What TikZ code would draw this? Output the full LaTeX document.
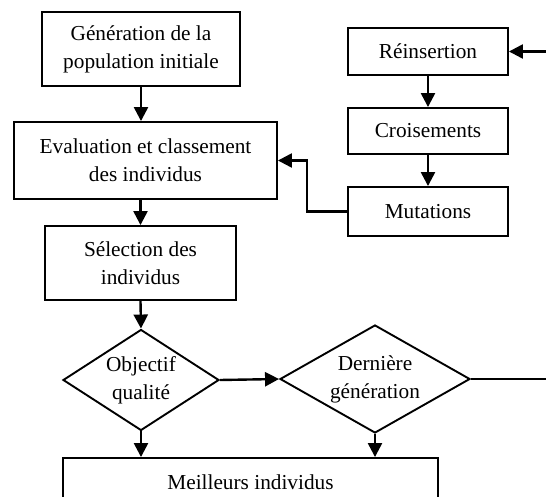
\documentclass[tikz,border=0pt]{standalone}
\usepackage{fontspec}
\setmainfont{Liberation Serif}
\usetikzlibrary{arrows.meta,positioning,shapes.geometric}

\begin{document}
\begin{tikzpicture}[
    x=1pt, y=-1pt,
    arr/.style={-{Triangle[length=14pt,width=14pt]}, line width=2.4pt},
    ln/.style={line width=2.4pt},
    blk/.style={draw, line width=1.9pt, rectangle, align=center, inner sep=0pt,
      font=\fontsize{21.3}{28}\selectfont},
    dec/.style={draw, line width=1.9pt, diamond, align=center, inner sep=0pt,
      font=\fontsize{21.3}{28}\selectfont},
  ]
  \clip (0,0) rectangle (546,497);

  % Main column
  \node[blk, minimum width=198pt, minimum height=74pt] (gen) at (141,49)
    {Génération de la\\population initiale};
  \node[blk, minimum width=263pt, minimum height=77pt] (eval) at (145.5,160.5)
    {Evaluation et classement\\des individus};
  \node[blk, minimum width=191pt, minimum height=74pt] (sel) at (140.5,263)
    {Sélection des\\individus};

  % Tests
  \node[dec, aspect=1.55, minimum width=156pt, minimum height=101pt] (obj) at (141,380)
    {Objectif\\qualité};
  \node[dec, aspect=1.76, minimum width=190pt, minimum height=108pt] (der) at (375,379)
    {Dernière\\génération};
  \node[blk, minimum width=375pt, minimum height=48pt] (best) at (250.5,482)
    {Meilleurs individus};

  % Loop column
  \node[blk, minimum width=160pt, minimum height=47pt] (rein) at (428,51.5) {Réinsertion};
  \node[blk, minimum width=160pt, minimum height=46pt] (crois) at (428,131) {Croisements};
  \node[blk, minimum width=160pt, minimum height=49pt] (mut) at (428,211.5) {Mutations};

  \coordinate (inR) at (546,51.5);
  \coordinate (outR) at (546,379);

  % Connectors
  \draw[arr] (gen.south) -- (gen.south |- eval.north);
  \draw[arr] (eval.south -| sel) -- (sel.north);
  \draw[arr] (sel.south) -- (obj.north);
  \draw[arr] (obj.east) -- (der.west);
  \draw[ln] (der.east) -- (outR);
  \draw[arr] (obj.south) -- (obj.south |- best.north);
  \draw[arr] (der.south) -- (der.south |- best.north);
  \draw[arr] (inR) -- (rein.east);
  \draw[arr] (rein.south) -- (crois.north);
  \draw[arr] (crois.south) -- (mut.north);
  \draw[arr] (mut.west) -- ++(-40,0) |- (eval.east);

\end{tikzpicture}
\end{document}
